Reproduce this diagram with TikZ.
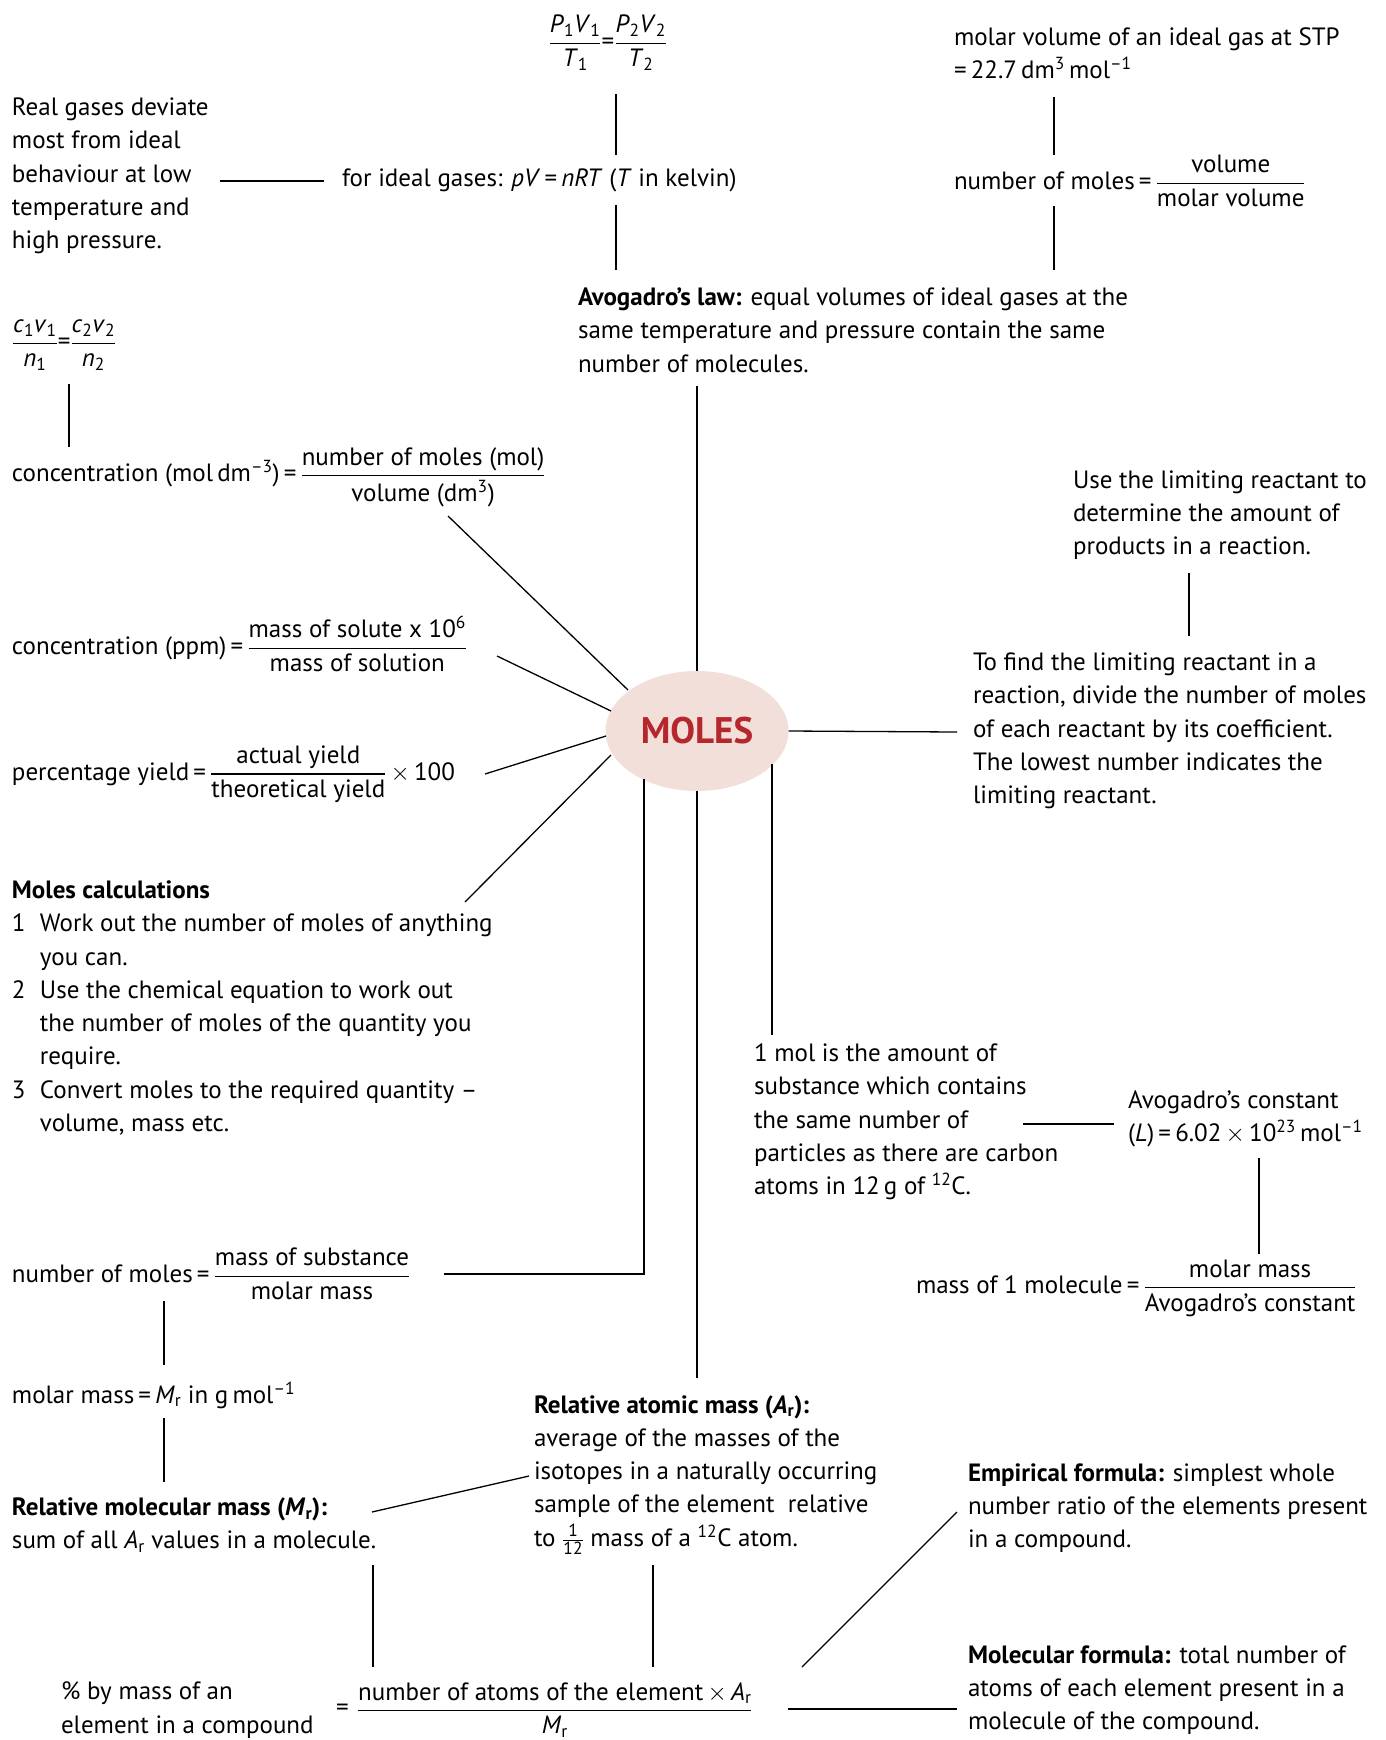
\documentclass[tikz,border=0pt]{standalone}
\usepackage{fontspec}
\usepackage{amsmath}
\setmainfont{PT Sans}
\usetikzlibrary{shapes.geometric}
\definecolor{molered}{HTML}{B5272D}
\definecolor{molefill}{HTML}{F2DFD9}
\newcommand{\iv}[1]{\textit{#1}}
\newcommand{\mysb}[1]{\textsubscript{#1}}
\newcommand{\mysp}[1]{\textsuperscript{#1}}
\newcommand{\fr}[2]{\ensuremath{\genfrac{}{}{1.2pt}{0}{\text{#1}}{\text{#2}}}}
\newcommand{\tms}{\ensuremath{\times}}
\begin{document}
\begin{tikzpicture}[x=1pt,y=-1pt,
  every node/.style={inner sep=0pt, outer sep=0pt, font=\fontsize{25}{33.3}\selectfont, align=left},
  conn/.style={line width=1.3pt, line cap=butt},
  lbl/.style={anchor=west}]
\useasboundingbox (0,0) rectangle (1385,1740);

% ---- central node
\node[ellipse, fill=molefill, minimum width=183pt, minimum height=120pt, font=\fontsize{37}{42}\selectfont\bfseries, text=molered, align=center] (moles) at (697,731) {MOLES};

% ---- top centre
\node (gaslaw) at (608,43) {\fr{\iv{P}\mysb{1}\iv{V}\mysb{1}}{\iv{T}\mysb{1}}\text{=}\fr{\iv{P}\mysb{2}\iv{V}\mysb{2}}{\iv{T}\mysb{2}}};
\node[lbl] (ideal) at (342,180) {for ideal gases: \iv{pV}\,=\,\iv{nRT} (\iv{T} in kelvin)};
\node[lbl] (real) at (12,176) {Real gases deviate\\most from ideal\\behaviour at low\\temperature and\\high pressure.};
\node[lbl] (avlaw) at (578,330) {\textbf{Avogadro’s law:} equal volumes of ideal gases at the\\same temperature and pressure contain the same\\number of molecules.};

% ---- top right
\node[lbl] (molvol) at (954,53) {molar volume of an ideal gas at STP\\=\,22.7\,dm\mysp{3}\,mol\mysp{--1}};
\node[lbl] (nmvol) at (954,181) {number of moles\,=\,\fr{volume}{molar volume}};

% ---- left column
\node[lbl] (dil) at (12,345) {\fr{\iv{c}\mysb{1}\iv{v}\mysb{1}}{\iv{n}\mysb{1}}\text{=}\fr{\iv{c}\mysb{2}\iv{v}\mysb{2}}{\iv{n}\mysb{2}}};
\node[lbl] (conc) at (12,477) {concentration (mol\,dm\mysp{--3})\,=\,\fr{number of moles (mol)}{volume (dm\mysp{3})}};
\node[lbl] (ppm) at (12,644) {concentration (ppm)\,=\,\fr{mass of solute x 10\mysp{6}}{mass of solution}};
\node[lbl] (yield) at (12,774) {percentage yield\,=\,\fr{actual yield}{theoretical yield}\,\tms\,100};
\node[lbl] (calc) at (12,1008) {\textbf{Moles calculations}\\
\makebox[28pt][l]{1}Work out the number of moles of anything\\
\hspace*{28pt}you can.\\
\makebox[28pt][l]{2}Use the chemical equation to work out\\
\hspace*{28pt}the number of moles of the quantity you\\
\hspace*{28pt}require.\\
\makebox[28pt][l]{3}Convert moles to the required quantity --\\
\hspace*{28pt}volume, mass etc.};
\node[lbl] (nmmass) at (12,1274) {number of moles\,=\,\fr{mass of substance}{molar mass}};
\node[lbl] (molmass) at (12,1395) {molar mass\,=\,\iv{M}\mysb{r} in g\,mol\mysp{--1}};
\node[lbl] (rmm) at (12,1525) {\textbf{Relative molecular mass (\iv{M}\mysb{r}):}\\sum of all \iv{A}\mysb{r} values in a molecule.};

% ---- bottom
\node[lbl] (ram) at (534,1475) {\textbf{Relative atomic mass (\iv{A}\mysb{r}):}\\average of the masses of the\\isotopes in a naturally occurring\\sample of the element\ \ relative\\to \ensuremath{\frac{\text{1}}{\text{12}}} mass of a \mysp{12}C atom.};
\node[lbl] (pct) at (61,1710) {\% by mass of an\\element in a compound};
\node[lbl] (pcteq) at (336,1710) {=};
\node[lbl] (pctfr) at (357,1710) {\fr{number of atoms of the element\,\tms\,\iv{A}\mysb{r}}{\iv{M}\mysb{r}}};
\node[lbl] (emp) at (968,1508) {\textbf{Empirical formula:} simplest whole\\number ratio of the elements present\\in a compound.};
\node[lbl] (mol) at (968,1690) {\textbf{Molecular formula:} total number of\\atoms of each element present in a\\molecule of the compound.};

% ---- right side
\node[lbl] (uselim) at (1073,515) {Use the limiting reactant to\\determine the amount of\\products in a reaction.};
\node[lbl] (findlim) at (973,731) {To find the limiting reactant in a\\reaction, divide the number of moles\\of each reactant by its coefficient.\\The lowest number indicates the\\limiting reactant.};
\node[lbl] (onemol) at (754,1122) {1 mol is the amount of\\substance which contains\\the same number of\\particles as there are carbon\\atoms in 12\,g of \mysp{12}C.};
\node[lbl] (avc) at (1128,1119) {Avogadro’s constant\\(\iv{L})\,=\,6.02\,\tms\,10\mysp{23}\,mol\mysp{--1}};
\node[lbl] (m1) at (916,1288) {mass of 1 molecule\,=\,\fr{molar mass}{Avogadro’s constant}};

% ---- connector end points
\coordinate (c1a) at (616,94);   \coordinate (c1b) at (616,155);
\coordinate (c2a) at (616,205);  \coordinate (c2b) at (616,270);
\coordinate (c3a) at (220,181);  \coordinate (c3b) at (324,181);
\coordinate (c4a) at (1054,97);  \coordinate (c4b) at (1054,155);
\coordinate (c5a) at (1054,206); \coordinate (c5b) at (1054,270);
\coordinate (c6a) at (697,386);
\coordinate (c7a) at (69,384);   \coordinate (c7b) at (69,447);
\coordinate (c8a) at (448,516);  \coordinate (c8b) at (628,690);
\coordinate (c9a) at (497,656);  \coordinate (c9b) at (611,711);
\coordinate (c10a) at (485,774); \coordinate (c10b) at (606,736);
\coordinate (c11a) at (465,902); \coordinate (c11b) at (611,755);
\coordinate (c12a) at (644,779); \coordinate (c12m) at (644,1274); \coordinate (c12b) at (444,1274);
\coordinate (c13a) at (164,1301); \coordinate (c13b) at (164,1365);
\coordinate (c14a) at (164,1418); \coordinate (c14b) at (164,1482);
\coordinate (c15a) at (372,1512); \coordinate (c15b) at (529,1476);
\coordinate (c16b) at (697,1378);
\coordinate (c17a) at (772,764);  \coordinate (c17b) at (772,1035);
\coordinate (c18a) at (1023,1124); \coordinate (c18b) at (1114,1124);
\coordinate (c19a) at (1259,1158); \coordinate (c19b) at (1259,1254);
\coordinate (c20b) at (957,732);
\coordinate (c21a) at (1189,573); \coordinate (c21b) at (1189,636);
\coordinate (c22a) at (373,1565); \coordinate (c22b) at (373,1667);
\coordinate (c23a) at (653,1565); \coordinate (c23b) at (653,1667);
\coordinate (c24a) at (788,1709); \coordinate (c24b) at (957,1709);
\coordinate (c25a) at (802,1667); \coordinate (c25b) at (957,1512);

% ---- connectors
\draw[conn] (c1a) -- (c1b);
\draw[conn] (c2a) -- (c2b);
\draw[conn] (c3a) -- (c3b);
\draw[conn] (c4a) -- (c4b);
\draw[conn] (c5a) -- (c5b);
\draw[conn] (c6a) -- (moles.north);
\draw[conn] (c7a) -- (c7b);
\draw[conn] (c8a) -- (c8b);
\draw[conn] (c9a) -- (c9b);
\draw[conn] (c10a) -- (c10b);
\draw[conn] (c11a) -- (c11b);
\draw[conn] (c12a) -- (c12m) -- (c12b);
\draw[conn] (c13a) -- (c13b);
\draw[conn] (c14a) -- (c14b);
\draw[conn] (c15a) -- (c15b);
\draw[conn] (moles.south) -- (c16b);
\draw[conn] (c17a) -- (c17b);
\draw[conn] (c18a) -- (c18b);
\draw[conn] (c19a) -- (c19b);
\draw[conn] (moles.east) -- (c20b);
\draw[conn] (c21a) -- (c21b);
\draw[conn] (c22a) -- (c22b);
\draw[conn] (c23a) -- (c23b);
\draw[conn] (c24a) -- (c24b);
\draw[conn] (c25a) -- (c25b);
\end{tikzpicture}
\end{document}
